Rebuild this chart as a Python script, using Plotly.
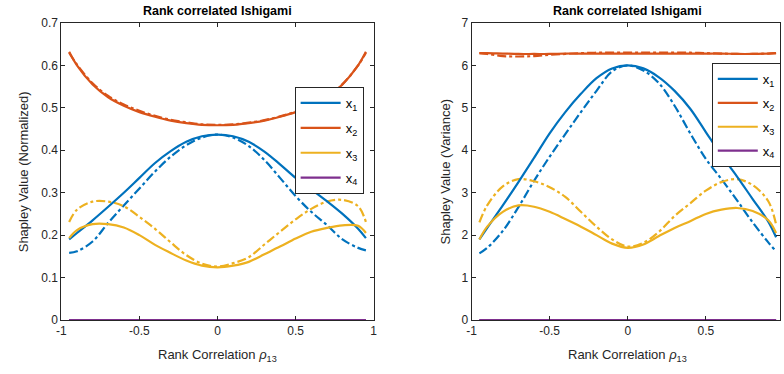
import plotly.graph_objects as go

# ---------------- data ----------------
rho = [-0.95, -0.9, -0.8, -0.7, -0.6, -0.5, -0.4, -0.3, -0.2, -0.1, 0.0,
       0.1, 0.2, 0.3, 0.4, 0.5, 0.6, 0.7, 0.8, 0.9, 0.95]

# Normalized Shapley values (solid = one estimate, dash-dot = other)
norm_x1 = [0.190, 0.205, 0.235, 0.267, 0.300, 0.335, 0.370, 0.398, 0.420, 0.433, 0.437,
           0.433, 0.420, 0.397, 0.367, 0.335, 0.308, 0.280, 0.250, 0.215, 0.193]
norm_x1_dd = [0.158, 0.162, 0.185, 0.229, 0.270, 0.310, 0.350, 0.385, 0.412, 0.430, 0.437,
              0.430, 0.410, 0.377, 0.335, 0.292, 0.255, 0.224, 0.190, 0.170, 0.164]
norm_x2 = [0.632, 0.600, 0.555, 0.525, 0.505, 0.490, 0.479, 0.470, 0.464, 0.460, 0.459,
           0.460, 0.464, 0.470, 0.479, 0.490, 0.505, 0.525, 0.555, 0.600, 0.632]
norm_x2_dd = [0.630, 0.602, 0.558, 0.528, 0.508, 0.493, 0.481, 0.472, 0.466, 0.461, 0.460,
              0.461, 0.465, 0.471, 0.480, 0.491, 0.506, 0.526, 0.556, 0.600, 0.630]
norm_x3 = [0.193, 0.212, 0.226, 0.226, 0.218, 0.200, 0.177, 0.158, 0.140, 0.128, 0.124,
           0.128, 0.137, 0.155, 0.173, 0.192, 0.208, 0.217, 0.223, 0.222, 0.205]
norm_x3_dd = [0.231, 0.260, 0.279, 0.279, 0.268, 0.243, 0.215, 0.183, 0.153, 0.133, 0.126,
              0.134, 0.148, 0.178, 0.208, 0.237, 0.262, 0.279, 0.283, 0.268, 0.231]
norm_x4 = [0.0] * 21
norm_x4_dd = [0.0] * 21

# Variance Shapley values
var_x1 = [1.90, 2.17, 2.70, 3.25, 3.82, 4.40, 4.90, 5.33, 5.70, 5.93, 6.00,
          5.93, 5.72, 5.40, 4.98, 4.43, 3.88, 3.38, 2.85, 2.32, 1.95]
var_x1_dd = [1.57, 1.70, 2.10, 2.66, 3.28, 3.85, 4.38, 4.90, 5.40, 5.86, 6.00,
             5.88, 5.58, 5.05, 4.40, 3.80, 3.32, 2.82, 2.30, 1.83, 1.62]
var_x2 = [6.29, 6.29, 6.28, 6.27, 6.27, 6.27, 6.28, 6.28, 6.28, 6.28, 6.28,
          6.28, 6.28, 6.28, 6.28, 6.28, 6.28, 6.27, 6.27, 6.28, 6.29]
var_x2_dd = [6.29, 6.27, 6.22, 6.21, 6.22, 6.25, 6.27, 6.29, 6.30, 6.30, 6.30,
             6.30, 6.30, 6.30, 6.30, 6.29, 6.28, 6.27, 6.27, 6.28, 6.29]
var_x3 = [1.90, 2.20, 2.55, 2.70, 2.67, 2.55, 2.38, 2.20, 2.00, 1.80, 1.70,
          1.78, 1.98, 2.17, 2.33, 2.50, 2.60, 2.64, 2.57, 2.35, 2.05]
var_x3_dd = [2.30, 2.70, 3.15, 3.32, 3.27, 3.13, 2.90, 2.55, 2.20, 1.90, 1.73,
             1.82, 2.08, 2.45, 2.75, 3.05, 3.25, 3.32, 3.18, 2.80, 2.25]
var_x4 = [0.0] * 21
var_x4_dd = [0.0] * 21

labels = ["x<sub>1</sub>", "x<sub>2</sub>", "x<sub>3</sub>", "x<sub>4</sub>"]
colors = ["#0072BD", "#D95319", "#EDB120", "#7E2F8E"]

title_text = "Rank correlated Ishigami"
xlabel = "Rank Correlation <i>ρ</i><sub>13</sub>"
ylabel_left = "Shapley Value (Normalized)"
ylabel_right = "Shapley Value (Variance)"

# ---------------- figure ----------------
W, H = 784, 374
top_px, bot_px = 23, 320
mt, mb = top_px, H - bot_px
ph = bot_px - top_px
FONT = "Arial, Liberation Sans, Helvetica, sans-serif"
AX = "#262626"


def py(px):
    """pixel y -> paper y"""
    return (bot_px - px) / ph


def pxx(px):
    """pixel x -> paper x"""
    return px / W


fig = go.Figure()

solid_left = [norm_x1, norm_x2, norm_x3, norm_x4]
dd_left = [norm_x1_dd, norm_x2_dd, norm_x3_dd, norm_x4_dd]
solid_right = [var_x1, var_x2, var_x3, var_x4]
dd_right = [var_x1_dd, var_x2_dd, var_x3_dd, var_x4_dd]

for i in range(4):
    fig.add_trace(go.Scatter(x=rho, y=dd_left[i], mode="lines",
                             line=dict(color=colors[i], width=2.2, dash="dashdot", shape="spline"),
                             showlegend=False, xaxis="x", yaxis="y"))
for i in range(4):
    fig.add_trace(go.Scatter(x=rho, y=solid_left[i], mode="lines", name=labels[i],
                             line=dict(color=colors[i], width=2.2, shape="spline"),
                             legend="legend", legendgroup="L%d" % i, xaxis="x", yaxis="y"))
for i in range(4):
    fig.add_trace(go.Scatter(x=rho, y=dd_right[i], mode="lines",
                             line=dict(color=colors[i], width=2.2, dash="dashdot", shape="spline"),
                             showlegend=False, xaxis="x2", yaxis="y2"))
for i in range(4):
    fig.add_trace(go.Scatter(x=rho, y=solid_right[i], mode="lines", name=labels[i],
                             line=dict(color=colors[i], width=2.2, shape="spline"),
                             legend="legend2", legendgroup="R%d" % i, xaxis="x2", yaxis="y2"))

axis_common = dict(showline=True, linecolor=AX, linewidth=1, mirror="ticks", ticks="inside",
                   ticklen=4, tickcolor=AX, showgrid=False, zeroline=False,
                   tickfont=dict(family=FONT, size=12, color=AX))

fig.update_layout(
    width=W, height=H,
    margin=dict(l=0, r=0, t=mt, b=mb),
    paper_bgcolor="white", plot_bgcolor="white",
    font=dict(family=FONT, color=AX),
    xaxis=dict(domain=[pxx(57), pxx(373)], range=[-1, 1], tickvals=[-1, -0.5, 0, 0.5, 1],
               ticktext=["-1", "-0.5", "0", "0.5", "1"], anchor="y", **axis_common),
    yaxis=dict(domain=[0, 1], range=[0, 0.7], dtick=0.1, anchor="x", **axis_common),
    xaxis2=dict(domain=[pxx(472), 1.0], range=[-1, 0.975], tickvals=[-1, -0.5, 0, 0.5],
                ticktext=["-1", "-0.5", "0", "0.5"], anchor="y2", **axis_common),
    yaxis2=dict(domain=[0, 1], range=[0, 7], dtick=1, anchor="x2", **axis_common),
    legend=dict(x=pxx(293), y=py(87), xanchor="left", yanchor="top",
                bordercolor=AX, borderwidth=1, bgcolor="white", itemwidth=40,
                font=dict(family=FONT, size=13, color="#000000"), tracegroupgap=5),
    legend2=dict(x=pxx(715), y=py(63), xanchor="left", yanchor="top",
                 bordercolor=AX, borderwidth=1, bgcolor="white", itemwidth=40,
                 font=dict(family=FONT, size=13, color="#000000"), tracegroupgap=4),
)

ann = []
for xr in ["x", "x2"]:
    ann.append(dict(x=0, xref=xr, y=py(11), yref="paper", text="<b>" + title_text + "</b>",
                    showarrow=False, xanchor="center", yanchor="middle",
                    font=dict(family=FONT, size=12.5, color="#000000")))
    ann.append(dict(x=0, xref=xr, y=py(355), yref="paper", text=xlabel,
                    showarrow=False, xanchor="center", yanchor="middle",
                    font=dict(family=FONT, size=13, color=AX)))
ann.append(dict(x=pxx(19), xref="paper", y=0.5, yref="paper", text=ylabel_left, textangle=-90,
                showarrow=False, xanchor="center", yanchor="middle",
                font=dict(family=FONT, size=13, color=AX)))
ann.append(dict(x=pxx(446), xref="paper", y=0.5, yref="paper", text=ylabel_right, textangle=-90,
                showarrow=False, xanchor="center", yanchor="middle",
                font=dict(family=FONT, size=13, color=AX)))
fig.update_layout(annotations=ann)

fig.write_html("out.html", config={"displayModeBar": False},
               post_script="document.body.style.margin='0px';")
